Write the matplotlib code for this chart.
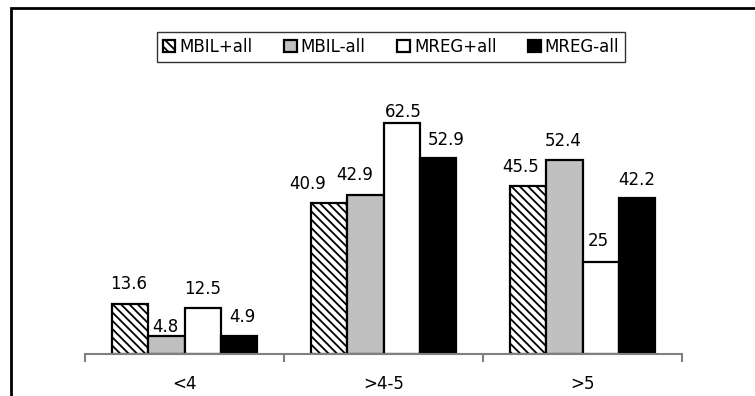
import matplotlib
matplotlib.use("Agg")
import matplotlib.pyplot as plt
from matplotlib.patches import Rectangle
import numpy as np

categories = ["<4", ">4-5", ">5"]
series_names = ["MBIL+all", "MBIL-all", "MREG+all", "MREG-all"]
mbil_plus = [13.6, 40.9, 45.5]
mbil_minus = [4.8, 42.9, 52.4]
mreg_plus = [12.5, 62.5, 25]
mreg_minus = [4.9, 52.9, 42.2]
values = [mbil_plus, mbil_minus, mreg_plus, mreg_minus]

# per-label nudges (pixels) so neighbouring value labels don't collide
label_dx = [[-2, -22, -8], [-1, -11, -1], [0, 2, -2], [4, 9, 0]]
label_dy = [[15, 14, 14], [4, 15, 14], [14, 6, 15], [14, 13, 13]]

plt.rcParams["font.family"] = ["DejaVu Sans"]
plt.rcParams["hatch.linewidth"] = 1.3

W, H = 755, 396
fig = plt.figure(figsize=(W / 100, H / 100), dpi=100)

# outer chart frame (extends past right and bottom edges)
fig.patches.append(Rectangle((10.5 / W, -0.1), 1.2, (1 - 8.5 / H) + 0.1,
                             transform=fig.transFigure, fill=False,
                             edgecolor="black", linewidth=2, zorder=0))

ax = fig.add_axes([85 / W, 1 - 354 / H, 597 / W, 259 / H])
ax.set_xlim(0, len(categories))
ax.set_ylim(0, 70)

styles = [
    dict(facecolor="white", hatch="\\\\\\\\", edgecolor="black"),
    dict(facecolor="#c0c0c0", edgecolor="black"),
    dict(facecolor="white", edgecolor="black"),
    dict(facecolor="black", edgecolor="black"),
]

w = 0.181
x = np.arange(len(categories)) + 0.5
for k, (name, vals, st) in enumerate(zip(series_names, values, styles)):
    pos = x + (k - 1.5) * w
    ax.bar(pos, vals, width=w, linewidth=1.6, label=name, **st)
    for j, (p, v) in enumerate(zip(pos, vals)):
        ax.annotate(f"{v:g}", (p, v), xytext=(label_dx[k][j], label_dy[k][j]),
                    textcoords="offset pixels", ha="center", va="baseline",
                    fontsize=12)

for s in ["top", "right", "left"]:
    ax.spines[s].set_visible(False)
ax.spines["bottom"].set_color("#808080")
ax.spines["bottom"].set_linewidth(1.5)
ax.set_yticks([])
ax.set_xticks([0, 1, 2, 3], minor=False)
ax.set_xticklabels([])
ax.tick_params(axis="x", length=6, width=1.5, color="#808080", direction="out")
ax.set_xticks(x, minor=True)
ax.set_xticklabels(categories, minor=True, fontsize=12)
ax.tick_params(axis="x", which="minor", length=0, pad=15)

leg = fig.legend(loc="center", bbox_to_anchor=(391 / W, 1 - 47 / H), ncol=4,
                 fontsize=12, frameon=True, fancybox=False, handlelength=0.75,
                 handleheight=0.75, handletextpad=0.25, columnspacing=1.9,
                 borderpad=0.35)
leg.get_frame().set_edgecolor("black")
leg.get_frame().set_linewidth(1.0)

fig.savefig("out.png", dpi=100)
